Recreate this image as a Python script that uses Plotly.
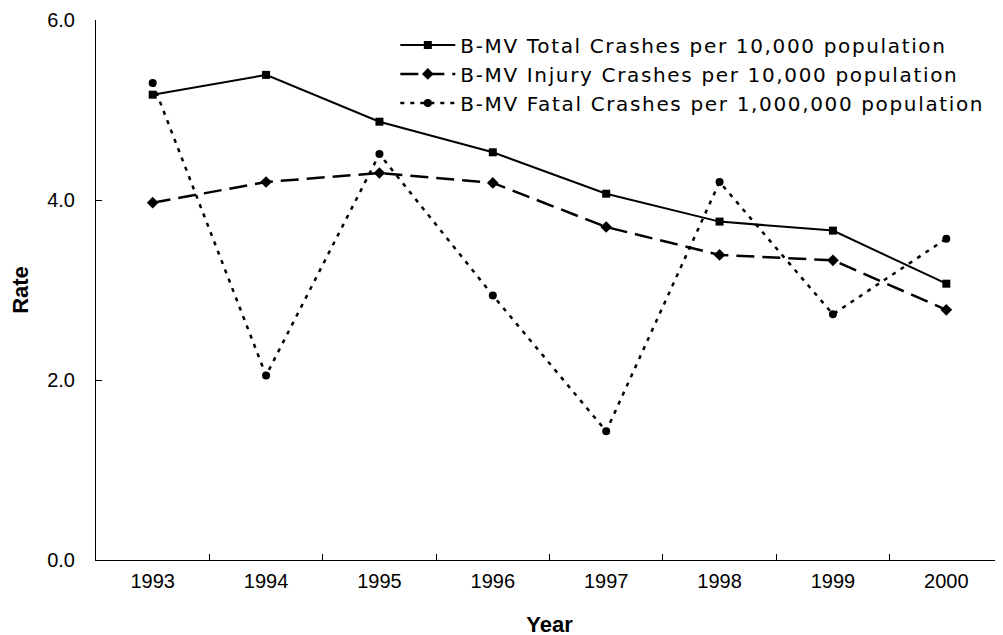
import plotly.graph_objects as go

years = ["1993", "1994", "1995", "1996", "1997", "1998", "1999", "2000"]
total_crashes = [5.17, 5.39, 4.87, 4.53, 4.07, 3.76, 3.66, 3.07]
injury_crashes = [3.97, 4.20, 4.30, 4.19, 3.70, 3.39, 3.33, 2.78]
fatal_crashes = [5.30, 2.05, 4.51, 2.94, 1.43, 4.20, 2.73, 3.57]
series_names = [
    "B-MV Total Crashes per 10,000 population",
    "B-MV Injury Crashes per 10,000 population",
    "B-MV Fatal Crashes per 1,000,000 population",
]
y_ticks = [0, 2, 4, 6]


def wide(s):
    return '<span style="letter-spacing:1.65px">' + s + "</span>"


fig = go.Figure()
fig.add_trace(go.Scatter(
    x=years, y=total_crashes, mode="lines+markers",
    name=wide(series_names[0]),
    line=dict(color="black", width=2),
    marker=dict(symbol="square", size=8, color="black"),
))
fig.add_trace(go.Scatter(
    x=years, y=injury_crashes, mode="lines+markers",
    name=wide(series_names[1]),
    line=dict(color="black", width=2.5, dash="18px,8px"),
    marker=dict(symbol="diamond", size=9, color="black"),
))
fig.add_trace(go.Scatter(
    x=years, y=fatal_crashes, mode="lines+markers",
    name=wide(series_names[2]),
    line=dict(color="black", width=2.5, dash="4px,6px"),
    marker=dict(symbol="circle", size=8, color="black"),
))

fig.update_layout(
    width=1003, height=635,
    margin=dict(l=88, r=8, t=12, b=83, autoexpand=False),
    paper_bgcolor="white", plot_bgcolor="white",
    font=dict(family="Liberation Sans, Arial, sans-serif", color="black"),
    showlegend=True,
    legend=dict(
        x=0.33, y=0.99, xanchor="left", yanchor="top",
        bgcolor="rgba(0,0,0,0)", borderwidth=0,
        font=dict(family="DejaVu Sans, sans-serif", size=20, color="black"),
        itemwidth=55, tracegroupgap=0,
    ),
    xaxis=dict(
        type="category", range=[-0.5, 7.5],
        showline=True, linecolor="black", linewidth=1,
        ticks="inside", tickson="boundaries", ticklen=6, tickcolor="black",
        showgrid=False, zeroline=False,
        tickfont=dict(size=20, family="Liberation Sans, Arial, sans-serif"),
        ticklabelstandoff=3,
        title=dict(text="<b>Year</b>", font=dict(size=22), standoff=25),
        automargin=False,
    ),
    yaxis=dict(
        range=[0, 6], tickvals=y_ticks, tickformat=".1f",
        showline=True, linecolor="black", linewidth=1,
        ticks="inside", ticklen=6, tickcolor="black",
        showgrid=False, zeroline=False,
        tickfont=dict(size=20, family="Liberation Sans, Arial, sans-serif"),
        ticklabelstandoff=16,
        title=dict(text="<b>Rate</b>", font=dict(size=22), standoff=14),
        automargin=False,
    ),
)

fig.write_html("out.html")
